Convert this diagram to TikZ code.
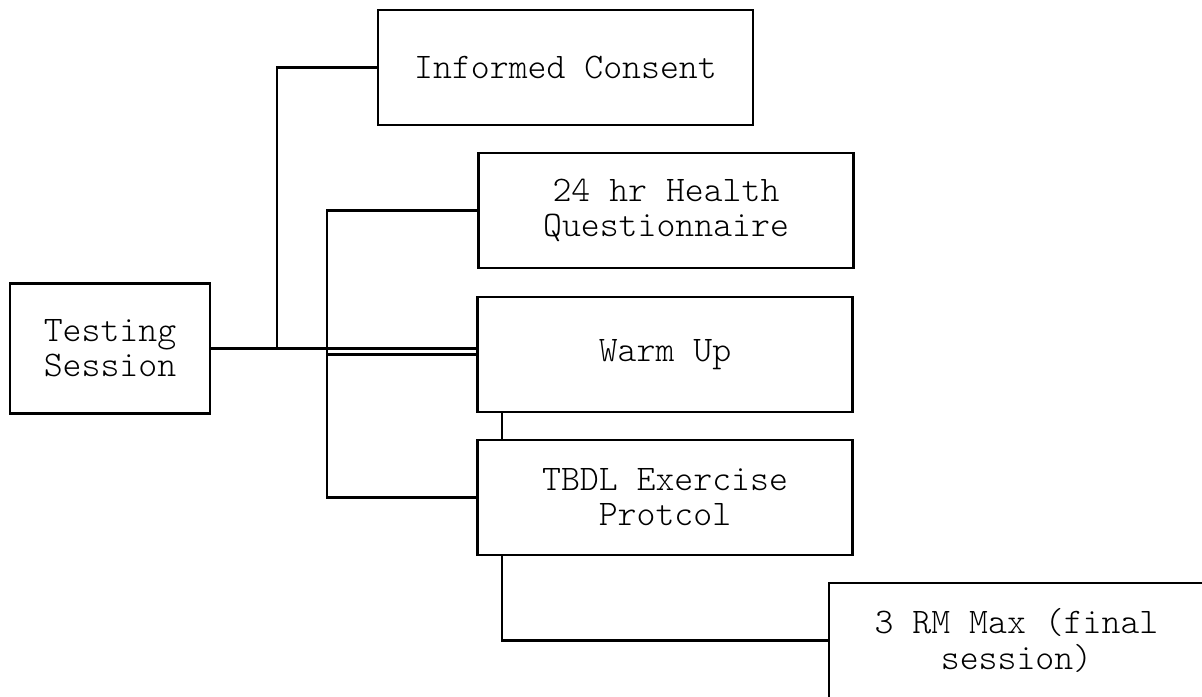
\documentclass[tikz,border=0pt]{standalone}
\usepackage{fontspec}
\setmonofont{Latin Modern Mono Light}
\usetikzlibrary{positioning}

\begin{document}
\begin{tikzpicture}[x=0.02cm,y=-0.02cm,line width=1.6pt,
  font=\ttfamily\fontsize{20.5}{20}\selectfont,
  stepbox/.style={draw,align=center,minimum width=7.5cm,minimum height=2.3cm,inner sep=0pt}]
\clip (0,0) rectangle (1202,696);
\useasboundingbox (0,0) rectangle (1202,696);
\node[draw,align=center,minimum width=4cm,minimum height=2.6cm,inner sep=0pt] (test) at (110,348.5) {Testing\\Session};
\node[stepbox] (consent) at (565.5,67.5) {Informed Consent};
\node[stepbox] (health) at (666,210.5) {24 hr Health\\Questionnaire};
\node[stepbox] (warm) at (665,354.5) {Warm Up};
\node[stepbox] (tbdl) at (665,497.5) {TBDL Exercise\\Protcol};
\node[stepbox] (rm) at (1016.5,640.5) {3 RM Max (final\\session)};
% branch lines
\coordinate (sa) at (277,0);
\coordinate (sb) at (327,0);
\coordinate (sc) at (502,0);
\draw (test.east) -- (sa |- test.east) |- (consent.west);
\draw (test.east) -- (sb |- test.east) |- (health.west);
\draw (sb |- test.east) |- (tbdl.west);
\draw (test.east) -- (test.east -| warm.west);
\draw (sb |- test.east) |- (warm.west);
\draw (sc |- warm.south) -- (sc |- tbdl.north);
\draw (sc |- tbdl.south) |- (rm.west);
\end{tikzpicture}
\end{document}
